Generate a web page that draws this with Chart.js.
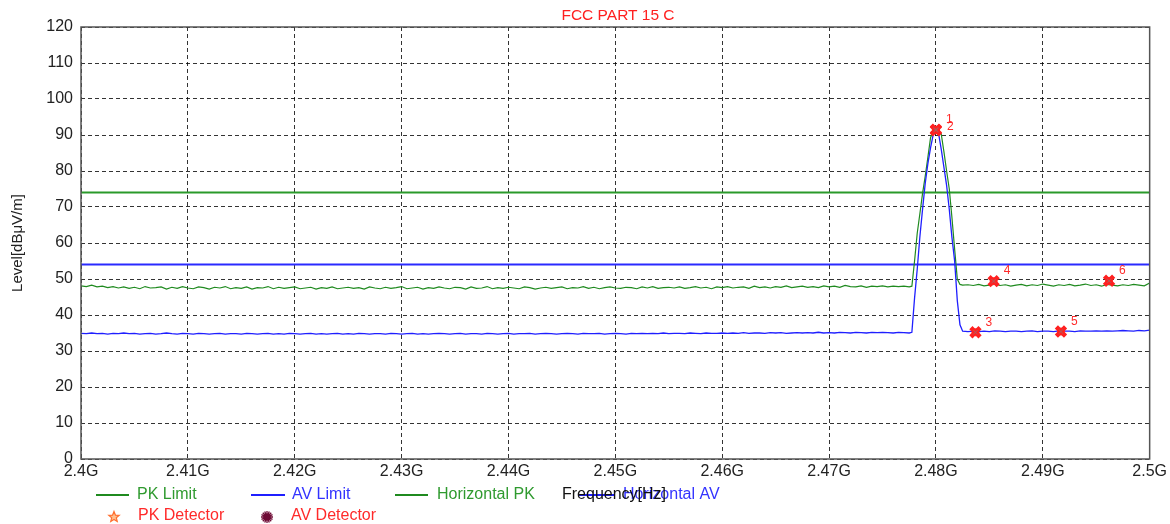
<!DOCTYPE html>
<html>
<head>
<meta charset="utf-8">
<script src="https://cdn.jsdelivr.net/npm/chart.js@4"></script>
<style>
  html, body { margin: 0; padding: 0; background: #fff; }
  #wrap { width: 1170px; height: 524px; position: relative; }
</style>
</head>
<body>
<div id="wrap"><canvas id="c" width="1170" height="524"></canvas></div>
<script>
// --- data (frequency in MHz, level in dBuV/m) ---
const freqLeft = [
  2400, 2400.5, 2401, 2401.5, 2402, 2402.5, 2403, 2403.5, 2404, 2404.5,
  2405, 2405.5, 2406, 2406.5, 2407, 2407.5, 2408, 2408.5, 2409, 2409.5,
  2410, 2410.5, 2411, 2411.5, 2412, 2412.5, 2413, 2413.5, 2414, 2414.5,
  2415, 2415.5, 2416, 2416.5, 2417, 2417.5, 2418, 2418.5, 2419, 2419.5,
  2420, 2420.5, 2421, 2421.5, 2422, 2422.5, 2423, 2423.5, 2424, 2424.5,
  2425, 2425.5, 2426, 2426.5, 2427, 2427.5, 2428, 2428.5, 2429, 2429.5,
  2430, 2430.5, 2431, 2431.5, 2432, 2432.5, 2433, 2433.5, 2434, 2434.5,
  2435, 2435.5, 2436, 2436.5, 2437, 2437.5, 2438, 2438.5, 2439, 2439.5,
  2440, 2440.5, 2441, 2441.5, 2442, 2442.5, 2443, 2443.5, 2444, 2444.5,
  2445, 2445.5, 2446, 2446.5, 2447, 2447.5, 2448, 2448.5, 2449, 2449.5,
  2450, 2450.5, 2451, 2451.5, 2452, 2452.5, 2453, 2453.5, 2454, 2454.5,
  2455, 2455.5, 2456, 2456.5, 2457, 2457.5, 2458, 2458.5, 2459, 2459.5,
  2460, 2460.5, 2461, 2461.5, 2462, 2462.5, 2463, 2463.5, 2464, 2464.5,
  2465, 2465.5, 2466, 2466.5, 2467, 2467.5, 2468, 2468.5, 2469, 2469.5,
  2470, 2470.5, 2471, 2471.5, 2472, 2472.5, 2473, 2473.5, 2474, 2474.5,
  2475, 2475.5, 2476, 2476.5, 2477
];
const freqPeak = [
  2477.5, 2477.75, 2478, 2478.25, 2478.5, 2478.75, 2479, 2479.25, 2479.5, 2479.75,
  2480, 2480.25, 2480.5, 2480.75, 2481, 2481.25, 2481.5, 2481.75, 2482, 2482.25,
  2482.5
];
const freqRight = [
  2483, 2483.5, 2484, 2484.5, 2485, 2485.5, 2486, 2486.5, 2487, 2487.5,
  2488, 2488.5, 2489, 2489.5, 2490, 2490.5, 2491, 2491.5, 2492, 2492.5,
  2493, 2493.5, 2494, 2494.5, 2495, 2495.5, 2496, 2496.5, 2497, 2497.5,
  2498, 2498.5, 2499, 2499.5, 2500
];

// Horizontal PK trace (green)
const pkLeft = [
  48.1, 47.9, 48.3, 47.8, 48.0, 47.6, 47.9, 47.5, 47.8, 47.4,
  47.7, 47.3, 47.9, 47.5, 47.6, 47.8, 47.2, 47.7, 47.4, 47.9,
  47.5, 47.3, 47.8, 47.6, 47.2, 47.7, 47.5, 47.9, 47.3, 47.6,
  47.4, 47.8, 47.2, 47.6, 47.5, 47.9, 47.3, 47.7, 47.4, 47.6,
  47.8, 47.3, 47.5, 47.7, 47.2, 47.6, 47.4, 47.8, 47.3, 47.5,
  47.7, 47.4, 47.6, 47.2, 47.8, 47.5, 47.3, 47.7, 47.4, 47.6,
  47.9, 47.3, 47.5, 47.7, 47.2, 47.6, 47.4, 47.8, 47.5, 47.3,
  47.7, 47.6, 47.2, 47.8, 47.4, 47.5, 47.9, 47.3, 47.6, 47.4,
  47.7, 47.5, 47.3, 47.8, 47.6, 47.2, 47.5, 47.7, 47.4, 47.6,
  47.8, 47.3, 47.6, 47.5, 47.9, 47.4, 47.7, 47.3, 47.6, 47.8,
  47.5, 47.4, 47.7, 47.6, 47.3, 47.8, 47.5, 47.9, 47.4, 47.6,
  47.7, 47.5, 47.8, 47.4, 47.6, 47.9, 47.5, 47.7, 47.3, 47.8,
  47.6, 47.9, 47.5, 47.7, 47.8, 47.4, 48.0, 47.6, 47.8, 47.5,
  47.9, 47.7, 48.1, 47.6, 47.8, 48.0, 47.7, 47.9, 47.6, 48.1,
  47.8, 48.0, 47.7, 48.2, 47.9, 47.8, 48.1, 47.7, 48.0, 47.9,
  48.1, 47.8, 48.0, 47.9, 48.0
];
const pkPeak = [
  47.8, 48.0, 55.0, 62.7, 68.2, 73.8, 78.6, 83.9, 89.3, 91.0,
  91.5, 91.2, 90.2, 85.3, 80.0, 75.0, 67.0, 58.3, 50.0, 48.5,
  48.3
];
const pkRight = [
  48.4, 48.2, 48.5, 48.1, 48.3, 48.6, 48.2, 48.4, 48.0, 48.3,
  48.5, 48.1, 48.4, 48.2, 48.6, 48.3, 48.0, 48.4, 48.2, 48.5,
  48.1, 48.3, 48.6, 48.2, 48.4, 48.0, 48.5, 48.3, 48.1, 48.4,
  48.2, 48.5, 48.3, 48.1, 48.9
];

// Horizontal AV trace (blue)
const avLeft = [
  34.9, 34.8, 35.0, 34.8, 34.9, 34.7, 34.9, 34.8, 35.0, 34.8,
  34.9, 34.7, 34.8, 34.9, 34.7, 34.8, 35.0, 34.8, 34.7, 34.9,
  34.8, 34.7, 34.9, 34.8, 34.7, 34.8, 34.9, 34.7, 34.8, 34.8,
  34.7, 34.9, 34.8, 34.7, 34.8, 34.9, 34.7, 34.8, 34.7, 34.9,
  34.8, 34.7, 34.8, 34.9, 34.7, 34.8, 34.7, 34.8, 34.9, 34.7,
  34.8, 34.7, 34.9, 34.8, 34.7, 34.8, 34.8, 34.7, 34.9, 34.8,
  34.7, 34.8, 34.9, 34.7, 34.8, 34.7, 34.8, 34.9, 34.8, 34.7,
  34.8, 34.9, 34.7, 34.8, 34.8, 34.7, 34.9, 34.8, 34.7, 34.8,
  34.9, 34.7, 34.8, 34.8, 34.9, 34.7, 34.8, 34.9, 34.8, 34.7,
  34.8, 34.9, 34.8, 34.7, 34.9, 34.8, 34.8, 34.9, 34.7, 34.8,
  34.9, 34.8, 34.7, 34.9, 34.8, 34.9, 34.8, 34.9, 34.8, 35.0,
  34.8, 34.9, 34.9, 34.8, 35.0, 34.9, 34.8, 35.0, 34.9, 34.9,
  35.0, 34.9, 35.0, 34.9, 35.1, 34.9, 35.0, 35.0, 34.9, 35.1,
  35.0, 35.1, 34.9, 35.0, 35.1, 35.0, 35.1, 35.0, 35.2, 35.0,
  35.1, 35.0, 35.2, 35.1, 35.0, 35.2, 35.1, 35.0, 35.2, 35.1,
  35.2, 35.1, 35.0, 35.2, 35.1
];
const avPeak = [
  35.0, 35.2, 44.7, 52.7, 61.8, 69.4, 76.6, 82.1, 86.5, 90.2,
  91.3, 90.4, 86.0, 81.0, 76.0, 69.3, 61.5, 55.0, 44.0, 37.3,
  35.5
];
const avRight = [
  35.4, 35.5, 35.4, 35.5, 35.4, 35.6, 35.5, 35.4, 35.5, 35.5,
  35.4, 35.5, 35.6, 35.4, 35.5, 35.5, 35.4, 35.6, 35.5, 35.5,
  35.4, 35.6, 35.5, 35.5, 35.6, 35.5, 35.6, 35.5, 35.6, 35.7,
  35.6, 35.5, 35.7, 35.6, 35.8
];

// limit lines
const limitFreq = [2400, 2500];
const pkLimit = [74, 74];
const avLimit = [54, 54];

// detector markers
const markerFreq = [2480, 2480, 2483.7, 2485.4, 2491.7, 2496.2];
const markerLevel = [91.5, 91.3, 35.2, 49.4, 35.4, 49.5];
const markerLabels = ['1', '2', '3', '4', '5', '6'];

const xTickLabels = ['2.4G', '2.41G', '2.42G', '2.43G', '2.44G', '2.45G',
  '2.46G', '2.47G', '2.48G', '2.49G', '2.5G'];

const FONT = "'Liberation Sans', Arial, sans-serif";
const GREEN = '#1f8a1f';
const BLUE = '#1f1fff';
const RED = '#ff2a2a';

function pts(fs, ls) {
  return fs.map((f, i) => ({ x: f, y: ls[i] }));
}

const freqAll = freqLeft.concat(freqPeak, freqRight);
const pkAll = pkLeft.concat(pkPeak, pkRight);
const avAll = avLeft.concat(avPeak, avRight);

// === frame, titles, legend and marker numbers ===
const decorPlugin = {
  id: 'decor',
  afterDraw(chart) {
    const ctx = chart.ctx;
    const a = chart.chartArea;
    ctx.save();

    // plot frame
    ctx.strokeStyle = '#555';
    ctx.lineWidth = 1.5;
    ctx.strokeRect(a.left, a.top, a.right - a.left, a.bottom - a.top);

    // subtitle
    ctx.fillStyle = '#ff2020';
    ctx.font = '15.5px ' + FONT;
    ctx.textAlign = 'center';
    ctx.textBaseline = 'middle';
    ctx.fillText('FCC PART 15 C', 618, 16);

    // y axis title
    ctx.save();
    ctx.translate(18, 243);
    ctx.rotate(-Math.PI / 2);
    ctx.fillStyle = '#222';
    ctx.font = '15px ' + FONT;
    ctx.fillText('Level[dBμV/m]', 0, 0);
    ctx.restore();

    // marker numbers
    const mMeta = chart.getDatasetMeta(5);
    ctx.fillStyle = RED;
    ctx.font = '12px ' + FONT;
    ctx.textAlign = 'left';
    mMeta.data.forEach((p, i) => {
      const dx = i === 1 ? 11 : 10;
      const dy = i === 1 ? -4 : -10;
      ctx.fillText(markerLabels[i], p.x + dx, p.y + dy);
    });

    // legend
    ctx.font = '16px ' + FONT;
    ctx.textAlign = 'left';
    ctx.textBaseline = 'middle';
    const row1 = 495, row2 = 516;
    const lineItems = [
      { x: 96, w: 33, tx: 137, color: GREEN, text: 'PK Limit', tc: '#2f9a2f' },
      { x: 251, w: 34, tx: 292, color: BLUE, text: 'AV Limit', tc: '#3333ff' },
      { x: 395, w: 33, tx: 437, color: GREEN, text: 'Horizontal PK', tc: '#2f9a2f' },
      { x: 579, w: 36, tx: 623, color: BLUE, text: 'Horizontal AV', tc: '#3333ff' }
    ];
    lineItems.forEach(it => {
      ctx.strokeStyle = it.color;
      ctx.lineWidth = 2;
      ctx.beginPath();
      ctx.moveTo(it.x, row1);
      ctx.lineTo(it.x + it.w, row1);
      ctx.stroke();
      ctx.fillStyle = it.tc;
      ctx.fillText(it.text, it.tx, row1);
    });
    ctx.fillStyle = '#111';
    ctx.fillText('Frequency[Hz]', 562, row1);

    // PK detector star (orange, 5 points)
    ctx.beginPath();
    for (let k = 0; k < 10; k++) {
      const r = k % 2 === 0 ? 5.5 : 2.4;
      const ang = -Math.PI / 2 + k * Math.PI / 5;
      const px = 114 + r * Math.cos(ang), py = row2 + 1 + r * Math.sin(ang);
      if (k === 0) ctx.moveTo(px, py); else ctx.lineTo(px, py);
    }
    ctx.closePath();
    ctx.fillStyle = '#ffc090';
    ctx.fill();
    ctx.strokeStyle = '#ff7030';
    ctx.lineWidth = 1.2;
    ctx.stroke();
    ctx.fillStyle = RED;
    ctx.fillText('PK Detector', 138, row2);

    // AV detector burst (maroon)
    ctx.strokeStyle = '#6e0a35';
    ctx.lineWidth = 1.3;
    ctx.beginPath();
    for (let k = 0; k < 8; k++) {
      const ang = k * Math.PI / 8;
      ctx.moveTo(267 - 6 * Math.cos(ang), row2 + 1 - 6 * Math.sin(ang));
      ctx.lineTo(267 + 6 * Math.cos(ang), row2 + 1 + 6 * Math.sin(ang));
    }
    ctx.stroke();
    ctx.fillStyle = '#6e0a35';
    ctx.beginPath();
    ctx.arc(267, row2 + 1, 2.5, 0, Math.PI * 2);
    ctx.fill();
    ctx.fillStyle = RED;
    ctx.fillText('AV Detector', 291, row2);

    ctx.restore();
  }
};

new Chart(document.getElementById('c'), {
  type: 'scatter',
  data: {
    datasets: [
      { label: 'PK Limit', data: pts(limitFreq, pkLimit), showLine: true,
        borderColor: '#2a9a2a', borderWidth: 2, pointRadius: 0, order: 6 },
      { label: 'AV Limit', data: pts(limitFreq, avLimit), showLine: true,
        borderColor: '#2a2aff', borderWidth: 2, pointRadius: 0, order: 6 },
      { label: 'Horizontal PK', data: pts(freqAll, pkAll), showLine: true,
        borderColor: GREEN, borderWidth: 1.2, pointRadius: 0, order: 4 },
      { label: 'Horizontal AV', data: pts(freqAll, avAll), showLine: true,
        borderColor: BLUE, borderWidth: 1.3, pointRadius: 0, order: 3 },
      { label: 'Markers base', data: pts(markerFreq, markerLevel), showLine: false,
        pointStyle: 'circle', pointRadius: 3.5, borderWidth: 1,
        borderColor: RED, backgroundColor: '#ff5050', order: 2 },
      { label: 'Markers X', data: pts(markerFreq, markerLevel), showLine: false,
        pointStyle: 'crossRot', pointRadius: 6.5, borderWidth: 4.5,
        borderColor: '#ff2020', order: 1 },
      { label: 'Markers core', data: pts(markerFreq, markerLevel), showLine: false,
        pointStyle: 'crossRot', pointRadius: 3, borderWidth: 1,
        borderColor: 'rgba(150,110,110,0.8)', order: 0 }
    ]
  },
  options: {
    responsive: false,
    animation: false,
    devicePixelRatio: 1,
    layout: { padding: { top: 27, right: 18, left: 0, bottom: 0 } },
    plugins: { legend: { display: false }, tooltip: { enabled: false } },
    scales: {
      x: {
        type: 'linear', min: 2400, max: 2500,
        ticks: {
          stepSize: 10, autoSkip: false, maxRotation: 0, padding: 3,
          color: '#222', font: { family: FONT, size: 16 },
          callback: (v, i) => xTickLabels[i]
        },
        grid: { color: 'rgba(0,0,0,0.8)', lineWidth: 1, drawTicks: false },
        border: { display: false, dash: [4, 3] },
        afterFit: s => { s.height = 65; }
      },
      y: {
        min: 0, max: 120,
        ticks: {
          stepSize: 10, padding: 8, color: '#222',
          font: { family: FONT, size: 16 }
        },
        grid: { color: 'rgba(0,0,0,0.8)', lineWidth: 1, drawTicks: false },
        border: { display: false, dash: [4, 3] },
        afterFit: s => { s.width = 81; }
      }
    }
  },
  plugins: [decorPlugin]
});
</script>
</body>
</html>
